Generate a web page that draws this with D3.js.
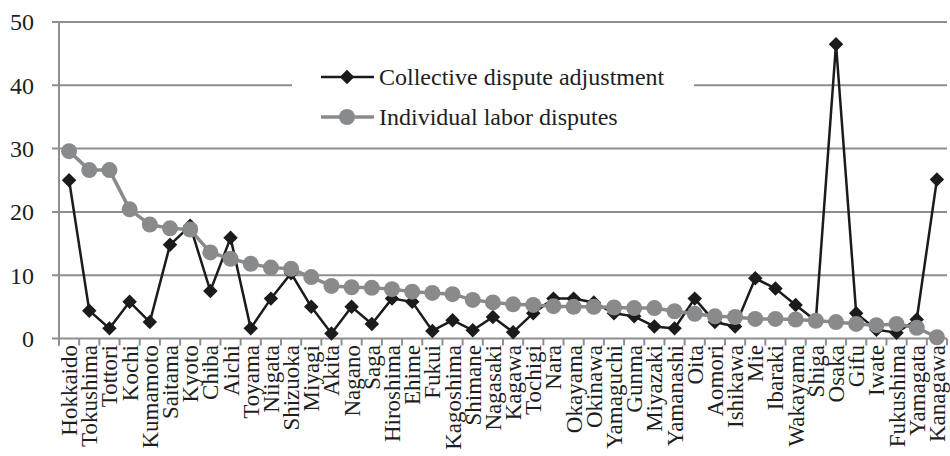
<!DOCTYPE html>
<html><head><meta charset="utf-8">
<script src="https://cdn.jsdelivr.net/npm/d3@7"></script>
<style>
body{margin:0;background:#fff}
svg{display:block}
</style>
</head><body><svg id="c" width="950" height="456"></svg>
<script>
const prefectures = ["Hokkaido","Tokushima","Tottori","Kochi","Kumamoto","Saitama","Kyoto","Chiba","Aichi","Toyama","Niigata","Shizuoka","Miyagi","Akita","Nagano","Saga","Hiroshima","Ehime","Fukui","Kagoshima","Shimane","Nagasaki","Kagawa","Tochigi","Nara","Okayama","Okinawa","Yamaguchi","Gunma","Miyazaki","Yamanashi","Oita","Aomori","Ishikawa","Mie","Ibaraki","Wakayama","Shiga","Osaka","Gifu","Iwate","Fukushima","Yamagata","Kanagawa"];
const collective = [25.0,4.4,1.6,5.8,2.6,14.8,17.8,7.5,15.9,1.6,6.3,10.3,5.0,0.8,5.0,2.3,6.3,5.8,1.2,2.9,1.3,3.4,1.0,4.0,6.3,6.3,5.7,4.0,3.5,1.9,1.6,6.3,2.6,1.9,9.5,7.9,5.3,2.8,46.5,4.0,1.4,0.9,3.0,25.1];
const individual = [29.6,26.6,26.6,20.4,18.0,17.4,17.2,13.6,12.6,11.8,11.2,11.0,9.7,8.3,8.1,8.0,7.8,7.4,7.2,7.0,6.1,5.7,5.4,5.3,5.1,5.0,5.0,4.9,4.8,4.8,4.3,3.9,3.5,3.4,3.1,3.1,3.0,2.8,2.6,2.3,2.1,2.3,1.7,0.2];
const yTicks = [0,10,20,30,40,50];
const seriesNames = ["Collective dispute adjustment","Individual labor disputes"];

const FONT = '"Liberation Serif", "Times New Roman", Tinos, Times, serif';
const svg = d3.select("#c").style("font-family", FONT, "important");
const x = d3.scaleBand().domain(prefectures).range([59, 947]);
const y = d3.scaleLinear().domain([0,50]).range([338.5, 22]);
const gridCol = "#8e8e8e";
const grayCol = "#898a8c";
const blackCol = "#1b1b1b";
const textCol = "#1e1e1e";
const cx = (i) => x(prefectures[i]) + x.bandwidth()/2;

function txt(sel){ return sel.style("font-family", FONT, "important"); }

// gridlines
svg.append("g").selectAll("line").data(yTicks).join("line")
  .attr("x1", 52).attr("x2", 947)
  .attr("y1", d => y(d)).attr("y2", d => y(d))
  .attr("stroke", gridCol).attr("stroke-width", 2);

// y axis line
svg.append("line").attr("x1",59).attr("x2",59).attr("y1",y(50)).attr("y2",y(0)+7)
  .attr("stroke", gridCol).attr("stroke-width", 2);

// y labels
txt(svg.append("g").selectAll("text").data(yTicks).join("text"))
  .attr("x", 34).attr("y", d => y(d)).attr("dy", "0.35em")
  .attr("text-anchor","end").attr("font-size", 24).attr("fill",textCol)
  .text(d => d);

// x ticks at band edges
const edges = prefectures.map(p => x(p)).concat([x.range()[1]]);
svg.append("g").selectAll("line").data(edges).join("line")
  .attr("x1", d => d).attr("x2", d => d).attr("y1", y(0)).attr("y2", y(0)+7)
  .attr("stroke", gridCol).attr("stroke-width", 2);

// x labels
txt(svg.append("g").selectAll("text").data(prefectures).join("text"))
  .attr("transform", (d,i) => `translate(${cx(i)+8},345) rotate(-90)`)
  .attr("text-anchor","end").attr("font-size", 23).attr("fill",textCol)
  .text(d => d);

// lines
const line = d3.line().x((d,i) => cx(i)).y(d => y(d));
svg.append("path").datum(collective).attr("d", line).attr("fill","none")
  .attr("stroke", blackCol).attr("stroke-width", 2.5);
const sq = d3.symbol().type(d3.symbolSquare).size(105)();
svg.append("g").selectAll("path").data(collective).join("path")
  .attr("d", sq)
  .attr("transform",(d,i)=>`translate(${cx(i)},${y(d)}) rotate(45)`)
  .attr("fill", blackCol);

svg.append("path").datum(individual).attr("d", line).attr("fill","none")
  .attr("stroke", grayCol).attr("stroke-width", 3.5);
svg.append("g").selectAll("circle").data(individual).join("circle")
  .attr("cx",(d,i)=>cx(i)).attr("cy", d => y(d))
  .attr("r", 8).attr("fill", grayCol);

// legend
const lg = svg.append("g");
lg.append("rect").attr("x",292).attr("y",45).attr("width",402).attr("height",95).attr("fill","#fff");
const cols = [blackCol, grayCol];
seriesNames.forEach((name, k) => {
  const ly = 77 + k*40;
  lg.append("line").attr("x1",321).attr("x2",374).attr("y1",ly).attr("y2",ly)
    .attr("stroke", cols[k]).attr("stroke-width", k ? 3.5 : 2.5);
  if (k === 0) {
    lg.append("path").attr("d", sq)
      .attr("transform", `translate(347,${ly}) rotate(45)`).attr("fill", blackCol);
  } else {
    lg.append("circle").attr("cx",347).attr("cy",ly).attr("r",8).attr("fill",grayCol);
  }
  txt(lg.append("text")).attr("x",379).attr("y",ly).attr("dy","0.35em").attr("font-size",24)
    .attr("fill",textCol).text(name);
});
</script></body></html>
